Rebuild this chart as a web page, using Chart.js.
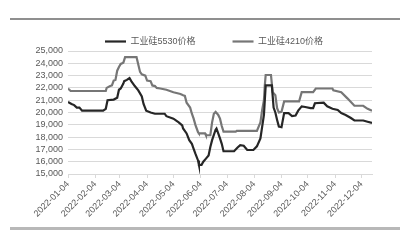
<!DOCTYPE html>
<html>
<head>
<meta charset="utf-8">
<script src="https://cdn.jsdelivr.net/npm/chart.js@4.4.1/dist/chart.umd.min.js"></script>
<style>
  body { margin: 0; background: #fff; }
  #wrap { position: relative; width: 400px; height: 250px; overflow: hidden; }
  #wrap canvas { position: absolute; left: 0; top: 0; }
  .rule { position: absolute; left: 10px; right: 0; }
  #ruleTop { top: 18px; height: 2px; background: #8f8f8f; }
  #ruleBottom { top: 227px; height: 3px; background: #b8b8b8; }
</style>
</head>
<body>
<div id="wrap">
  <div class="rule" id="ruleTop"></div>
  <canvas id="chart" width="400" height="250"></canvas>
  <div class="rule" id="ruleBottom"></div>
</div>
<script>
// series names
const seriesNames = ["工业硅5530价格", "工业硅4210价格"];

// month ticks on the x axis
const tickLabels = ["2022-01-04", "2022-02-04", "2022-03-04", "2022-04-04", "2022-05-04", "2022-06-04",
  "2022-07-04", "2022-08-04", "2022-09-04", "2022-10-04", "2022-11-04", "2022-12-04"];

// 工业硅5530 - turning points
const dates5530 = ["2022-01-04", "2022-01-08", "2022-01-11", "2022-01-14", "2022-01-17", "2022-01-20",
  "2022-02-13", "2022-02-16", "2022-02-18", "2022-02-25", "2022-03-01", "2022-03-03", "2022-03-05",
  "2022-03-08", "2022-03-09", "2022-03-12", "2022-03-15", "2022-03-17", "2022-03-21", "2022-03-25",
  "2022-03-29", "2022-03-31", "2022-04-03", "2022-04-08", "2022-04-13", "2022-04-24", "2022-04-26",
  "2022-05-04", "2022-05-10", "2022-05-14", "2022-05-15", "2022-05-19", "2022-05-22", "2022-05-25",
  "2022-05-27", "2022-05-29", "2022-06-01", "2022-06-02", "2022-06-05", "2022-06-07", "2022-06-10",
  "2022-06-13", "2022-06-15", "2022-06-17", "2022-06-21", "2022-06-22", "2022-06-24", "2022-06-26",
  "2022-06-28", "2022-06-30", "2022-07-12", "2022-07-16", "2022-07-19", "2022-07-23", "2022-07-27",
  "2022-08-03", "2022-08-07", "2022-08-11", "2022-08-15", "2022-08-17", "2022-08-24", "2022-08-26",
  "2022-08-28", "2022-08-30", "2022-09-01", "2022-09-04", "2022-09-07", "2022-09-12", "2022-09-16",
  "2022-09-20", "2022-09-23", "2022-09-27", "2022-10-01", "2022-10-07", "2022-10-10", "2022-10-12",
  "2022-10-22", "2022-10-26", "2022-11-01", "2022-11-07", "2022-11-11", "2022-11-16", "2022-11-22",
  "2022-11-26", "2022-12-06", "2022-12-11", "2022-12-16"];
const price5530 = [20850, 20700, 20600, 20400, 20400, 20150,
  20150, 20300, 21000, 21050, 21200, 21850, 21950,
  22350, 22550, 22650, 22800, 22550, 22150, 21800,
  21300, 20700, 20150, 20000, 19900, 19900, 19700,
  19500, 19200, 18950, 18700, 18300, 17750, 17450,
  17050, 16650, 16100, 15750, 15750, 16000, 16250,
  16500, 17200, 17750, 18600, 18700, 18300, 17900,
  17450, 16850, 16850, 17150, 17350, 17300, 16950,
  16950, 17250, 17900, 19800, 22200, 22200, 20400,
  20000, 19400, 18850, 18800, 19950, 19950, 19700,
  19750, 20150, 20500, 20450, 20350, 20350, 20750,
  20800, 20500, 20300, 20200, 19950, 19800, 19550,
  19350, 19350, 19250, 19150];

// 工业硅4210 - turning points
const dates4210 = ["2022-01-04", "2022-01-07", "2022-02-16", "2022-02-17", "2022-02-21", "2022-02-23",
  "2022-02-25", "2022-02-27", "2022-03-01", "2022-03-03", "2022-03-05", "2022-03-08", "2022-03-10",
  "2022-03-23", "2022-03-27", "2022-03-29", "2022-04-02", "2022-04-04", "2022-04-08", "2022-04-10",
  "2022-04-13", "2022-04-15", "2022-04-19", "2022-04-26", "2022-05-04", "2022-05-12", "2022-05-15",
  "2022-05-17", "2022-05-19", "2022-05-23", "2022-05-25", "2022-05-27", "2022-05-29", "2022-06-01",
  "2022-06-02", "2022-06-09", "2022-06-10", "2022-06-15", "2022-06-17", "2022-06-19", "2022-06-21",
  "2022-06-24", "2022-06-26", "2022-06-28", "2022-06-30", "2022-07-14", "2022-07-15", "2022-08-07",
  "2022-08-11", "2022-08-13", "2022-08-15", "2022-08-16", "2022-08-17", "2022-08-23", "2022-08-25",
  "2022-08-28", "2022-08-30", "2022-09-01", "2022-09-04", "2022-09-07", "2022-09-24", "2022-09-27",
  "2022-10-10", "2022-10-13", "2022-11-01", "2022-11-02", "2022-11-11", "2022-11-18", "2022-11-22",
  "2022-11-26", "2022-12-06", "2022-12-11", "2022-12-16"];
const price4210 = [21950, 21750, 21750, 22000, 22150, 22200,
  22600, 22650, 23400, 23700, 23950, 24050, 24500,
  24500, 23300, 23100, 23000, 22600, 22550, 22200,
  22150, 22000, 21950, 21850, 21650, 21500, 21400,
  21350, 20800, 20400, 19900, 19500, 19000, 18400,
  18300, 18300, 18150, 18150, 19200, 19900, 20050,
  19800, 19500, 18900, 18450, 18450, 18500, 18500,
  19200, 20200, 21000, 22200, 23050, 23050, 21650,
  21400, 20350, 20000, 20050, 20900, 20900, 21650,
  21650, 21950, 21950, 21800, 21650, 21150, 20850,
  20550, 20550, 20300, 20150];

const startDay = Date.parse(tickLabels[0]);
const dayOf = s => (Date.parse(s) - startDay) / 86400000;
const toPoints = (dates, vals) => dates.map((d, i) => ({ x: dayOf(d), y: vals[i] }));

const textColor = "#595959";
const font = { family: "'Liberation Sans', 'Noto Sans CJK SC', sans-serif", size: 9 };

new Chart(document.getElementById("chart"), {
  type: "line",
  data: {
    datasets: [
      {
        label: seriesNames[0],
        data: toPoints(dates5530, price5530),
        borderColor: "#262626",
        backgroundColor: "#262626",
        borderWidth: 2.2,
        pointRadius: 0,
        tension: 0
      },
      {
        label: seriesNames[1],
        data: toPoints(dates4210, price4210),
        borderColor: "#767676",
        backgroundColor: "#767676",
        borderWidth: 2.2,
        pointRadius: 0,
        tension: 0
      }
    ]
  },
  options: {
    responsive: false,
    animation: false,
    devicePixelRatio: 1,
    layout: { padding: { left: 0, right: 28, top: 0, bottom: 0 } },
    plugins: {
      tooltip: { enabled: false },
      legend: {
        position: "top",
        align: "start",
        fullSize: false,
        maxHeight: 51,
        labels: {
          usePointStyle: true,
          pointStyle: "line",
          pointStyleWidth: 21,
          padding: 37,
          color: textColor,
          font: font
        }
      }
    },
    scales: {
      x: {
        type: "linear",
        min: 0,
        max: dayOf(dates5530[dates5530.length - 1]),
        afterBuildTicks: scale => {
          scale.ticks = tickLabels.map(t => ({ value: dayOf(t) }));
        },
        afterFit: scale => { scale.height = 76; },
        ticks: {
          autoSkip: false,
          minRotation: 45,
          maxRotation: 45,
          padding: 1,
          color: textColor,
          font: font,
          callback: (v, i) => tickLabels[i]
        },
        grid: { drawOnChartArea: false, drawTicks: true, tickLength: 4, color: "#d9d9d9" },
        border: { display: true, color: "#d9d9d9" }
      },
      y: {
        min: 15000,
        max: 25000,
        afterFit: scale => { scale.width = 68; },
        ticks: {
          stepSize: 1000,
          autoSkip: false,
          padding: 5,
          color: textColor,
          font: font,
          callback: v => v.toLocaleString("en-US")
        },
        grid: { color: "#d9d9d9", drawTicks: false },
        border: { display: false }
      }
    }
  }
});
</script>
</body>
</html>
